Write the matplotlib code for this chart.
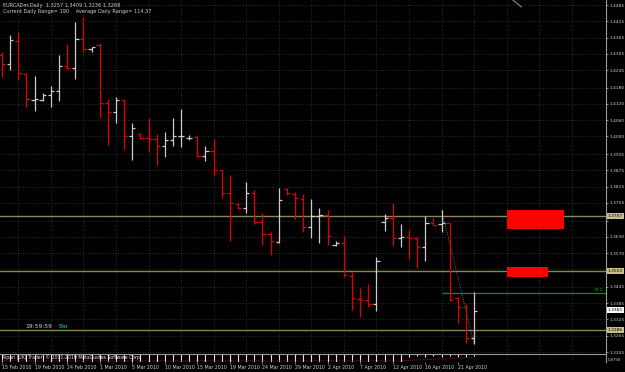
import matplotlib
matplotlib.use("Agg")
import matplotlib.pyplot as plt
from matplotlib.patches import Rectangle

# daily bars, index 0 = 15 Feb 2010 (Sunday bars included)
opens = [1.4301, 1.4267, 1.4352, 1.4230, 1.4135, 1.4135, 1.4153, 1.4168, 1.4260, 1.4253,
         1.4360, 1.4322, 1.4337, 1.4123, 1.4090, 1.4135, 1.4002, 1.4009, 1.3994, 1.3991,
         1.3965, 1.3987, 1.4000, 1.3993, 1.3998, 1.3928, 1.3946, 1.3876, 1.3791, 1.3751,
         1.3736, 1.3791, 1.3685, 1.3640, 1.3611, 1.3806, 1.3788, 1.3769, 1.3666, 1.3707,
         1.3710, 1.3600, 1.3607, 1.3485, 1.3400, 1.3397, 1.3382, 1.3685, 1.3699, 1.3625,
         1.3629, 1.3625, 1.3592, 1.3681, 1.3677, 1.3681, 1.3404, 1.3371, 1.3257]
highs = [1.4312, 1.4374, 1.4385, 1.4234, 1.4223, 1.4160, 1.4186, 1.4301, 1.4341, 1.4422,
         1.4441, 1.4331, 1.4345, 1.4138, 1.4146, 1.4138, 1.4050, 1.4013, 1.4068, 1.4009,
         1.4016, 1.4068, 1.4101, 1.4005, 1.4002, 1.3965, 1.3991, 1.3878, 1.3858, 1.3756,
         1.3832, 1.3803, 1.3718, 1.3648, 1.3810, 1.3810, 1.3795, 1.3788, 1.3769, 1.3736,
         1.3729, 1.3614, 1.3633, 1.3500, 1.3441, 1.3456, 1.3555, 1.3714, 1.3755, 1.3677,
         1.3655, 1.3629, 1.3707, 1.3699, 1.3729, 1.3682, 1.3408, 1.3382, 1.3426]
lows = [1.4219, 1.4245, 1.4208, 1.4109, 1.4094, 1.4131, 1.4109, 1.4131, 1.4249, 1.4212,
        1.4312, 1.4312, 1.4068, 1.3969, 1.4050, 1.3950, 1.3913, 1.3991, 1.3943, 1.3895,
        1.3924, 1.3965, 1.3961, 1.3987, 1.3924, 1.3910, 1.3854, 1.3773, 1.3614, 1.3732,
        1.3718, 1.3677, 1.3600, 1.3563, 1.3607, 1.3784, 1.3696, 1.3648, 1.3625, 1.3607,
        1.3600, 1.3596, 1.3482, 1.3360, 1.3334, 1.3371, 1.3356, 1.3651, 1.3596, 1.3592,
        1.3548, 1.3515, 1.3541, 1.3673, 1.3648, 1.3393, 1.3312, 1.3238, 1.3234]
closes = [1.4267, 1.4356, 1.4234, 1.4138, 1.4138, 1.4153, 1.4168, 1.4260, 1.4253, 1.4360,
          1.4323, 1.4330, 1.4123, 1.4090, 1.4135, 1.4002, 1.4031, 1.3994, 1.3991, 1.3965,
          1.3987, 1.4002, 1.4002, 1.3996, 1.3928, 1.3946, 1.3876, 1.3791, 1.3755, 1.3736,
          1.3791, 1.3685, 1.3640, 1.3614, 1.3766, 1.3791, 1.3773, 1.3666, 1.3707, 1.3710,
          1.3633, 1.3607, 1.3489, 1.3404, 1.3397, 1.3382, 1.3541, 1.3699, 1.3625, 1.3629,
          1.3625, 1.3592, 1.3681, 1.3675, 1.3681, 1.3397, 1.3371, 1.3257, 1.3356]

# lower indicator window (relative values)
sub_vals = [0.95] * 50 + [0.35, 0.3, 0.4, 0.3, 0.35, 0.3, 0.4, 0.35, 0.3]
sub_sig = [0.15] * 50 + [0.2, 0.25, 0.3, 0.35, 0.4, 0.45, 0.5, 0.55, 0.6]

date_idx = [0, 4, 8, 12, 16, 20, 24, 28, 32, 36, 40, 44, 48, 52, 56]
date_labels = ["15 Feb 2010", "19 Feb 2010", "24 Feb 2010", "1 Mar 2010", "5 Mar 2010",
               "10 Mar 2010", "15 Mar 2010", "19 Mar 2010", "24 Mar 2010", "29 Mar 2010",
               "2 Apr 2010", "7 Apr 2010", "12 Apr 2010", "16 Apr 2010", "21 Apr 2010"]
grid_idx = [2, 6, 10, 14, 18, 22, 26, 30, 34, 38, 42, 46, 50, 54, 58, 62, 66, 70]

price_ticks = [1.4485, 1.4425, 1.4365, 1.4305, 1.4245, 1.4180, 1.4120, 1.4060, 1.4000, 1.3935,
               1.3875, 1.3815, 1.3755, 1.3690, 1.3630, 1.3570, 1.3510, 1.3445, 1.3385, 1.3325,
               1.3265, 1.3205]
hidden_ticks = [1.3690, 1.3510]

levels = [1.3707, 1.3503, 1.3286]
green_level = 1.3423
bid = 1.3360

W, H = 625, 372
BG = "#000000"
UP = "#cccccc"
DN = "#e00000"
TXT = "#d0d0d0"
GRID = "#3a3a3a"
FS = 3.2

fig = plt.figure(figsize=(W / 100, H / 100), dpi=100, facecolor=BG)
ax = fig.add_axes([0, (H - 353) / H, 606 / W, 353 / H], facecolor=BG)
axs = fig.add_axes([0, (H - 362) / H, 606 / W, 8 / H], facecolor=BG)

px = 8.14
x0 = -2 / px
x1 = x0 + 606 / px
ytop = 1.4485 + 5 / 2711
ybot = 1.4485 - 348 / 2711

for a in (ax, axs):
    a.set_xlim(x0, x1)
    for s in ("left", "bottom", "top"):
        a.spines[s].set_visible(False)
    a.spines["right"].set_color("#9a9a9a")
    a.spines["right"].set_linewidth(0.8)
ax.set_ylim(ybot, ytop)
axs.set_ylim(0, 1)
axs.spines["top"].set_visible(True)
axs.spines["top"].set_color("#9a9a9a")
axs.spines["top"].set_linewidth(0.8)

# grid
for p in price_ticks:
    ax.axhline(p, color=GRID, lw=0.6, ls=(0, (1, 2)), zorder=0)
for g in grid_idx:
    ax.axvline(g, color=GRID, lw=0.6, ls=(0, (1, 2)), zorder=0)
    axs.axvline(g, color=GRID, lw=0.6, ls=(0, (1, 2)), zorder=0)

# levels
for lv in levels:
    ax.axhline(lv, color="#8a8658", lw=1.0, zorder=1)
ax.hlines(green_level, 54, x1, color="#1d7d1d", lw=1.0, zorder=1)
ax.plot([54, 58], [highs[54], lows[58]], color="#808080", lw=0.6, ls=(0, (1, 1.5)), zorder=1)
ax.plot([62.4, 63.8], [1.4512, 1.4478], color="#8c8c8c", lw=0.8, zorder=1)

# zones
ax.add_patch(Rectangle((62.04, 1.3659), 7.0, 0.0070, facecolor="#ff0000", edgecolor="none", zorder=2))
ax.add_patch(Rectangle((62.04, 1.3482), 5.04, 0.0037, facecolor="#ff0000", edgecolor="none", zorder=2))

# OHLC bars
for i in range(len(opens)):
    c = UP if closes[i] >= opens[i] else DN
    ax.vlines(i, lows[i], highs[i], color=c, lw=0.9, zorder=3)
    ax.hlines(opens[i], i - 0.4, i, color=c, lw=0.9, zorder=3)
    ax.hlines(closes[i], i, i + 0.4, color=c, lw=0.9, zorder=3)

# price scale
ax.yaxis.tick_right()
ax.set_yticks(price_ticks)
ax.set_yticklabels(["" if p in hidden_ticks else f"{p:.4f}" for p in price_ticks])
ax.tick_params(axis="y", colors="#9a9a9a", labelcolor=TXT, labelsize=FS, length=1.5, width=0.6, pad=0.8)
ax.set_xticks([])

for lv in levels:
    ax.text(1.003, lv, f"{lv:.4f}", transform=ax.get_yaxis_transform(), fontsize=FS,
            color="#000000", va="center", ha="left", clip_on=False,
            bbox=dict(boxstyle="square,pad=0.25", fc="#c8c088", ec="none"))
ax.text(1.003, bid, f"{bid:.4f}", transform=ax.get_yaxis_transform(), fontsize=FS,
        color="#000000", va="center", ha="left", clip_on=False,
        bbox=dict(boxstyle="square,pad=0.25", fc="#ffffff", ec="none"))
ax.text(594, H - 290, "30.2", transform=None, fontsize=FS, color="#22aa22", va="center", ha="left")

# lower window
n = len(sub_vals)
axs.vlines(range(n), [1 - v for v in sub_vals], 1, color="#e8e8e8", lw=0.8, zorder=2)
axs.plot(range(n), sub_sig, color="#d01010", lw=0.6, ls=(0, (1, 1.5)), zorder=3)
axs.set_yticks([])
axs.set_xticks(date_idx)
axs.set_xticklabels(date_labels, ha="left")
axs.tick_params(axis="x", colors="#9a9a9a", labelcolor=TXT, labelsize=3.4, length=1.5, width=0.6, pad=1)
axs.text(1.003, 0.2, "0.0?90", transform=axs.transAxes, fontsize=2.8, color=TXT, va="center", ha="left")
axs.text(2 / 606, 0.55, "Alpari (UK) Trader, \u00a9 2001-2010 MetaQuotes Software Corp.",
         transform=axs.transAxes, fontsize=3.3, color="#f4f4f4", va="center", ha="left", zorder=4)

# header and clock
fig.text(3 / W, 1 - 5 / H, "EURCADm,Daily  1.3257 1.3409 1.3236 1.3268", fontsize=3.6, color=TXT, va="center")
fig.text(3 / W, 1 - 11 / H, "Current Daily Range= 190    Average Daily Range= 114.37", fontsize=3.6,
         color=TXT, va="center")
fig.text(25 / W, 1 - 327 / H, "19:59:59", fontsize=4.3, color=TXT, va="center")
fig.text(58 / W, 1 - 327 / H, "Bar", fontsize=4.3, color="#00c8c8", va="center")

fig.savefig("out.png", dpi=100, facecolor=BG)
